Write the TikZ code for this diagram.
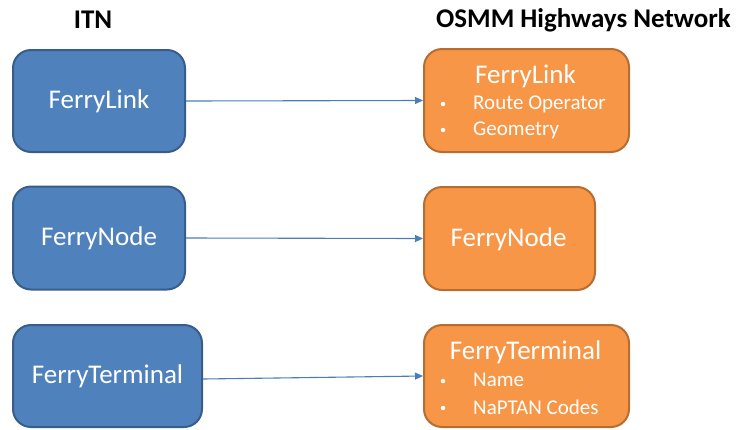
\documentclass[tikz,border=0pt]{standalone}
\usepackage{fontspec}
\setmainfont{Carlito}
\usetikzlibrary{arrows.meta}
\definecolor{bluefill}{HTML}{4F81BD}
\definecolor{blueline}{HTML}{385D8A}
\definecolor{orfill}{HTML}{F79646}
\definecolor{orline}{HTML}{B66D31}
\definecolor{arrowc}{HTML}{4A7EBB}
\begin{document}
\begin{tikzpicture}[x=1pt,y=-1pt,
  itnbox/.style={draw=blueline, fill=bluefill, line width=2pt, rounded corners=18pt,
    text=white, font=\fontsize{27}{30}\selectfont, inner sep=0pt},
  osmmbox/.style={draw=orline, fill=orfill, line width=2pt, rounded corners=18pt, inner sep=0pt},
  otitle/.style={text=white, font=\fontsize{27}{30}\selectfont, inner sep=0pt},
  oitem/.style={text=white, font=\fontsize{21}{24}\selectfont, inner sep=0pt, anchor=west},
  obullet/.style={fill=white, circle, inner sep=0pt, minimum size=4.5pt},
  header/.style={font=\bfseries\fontsize{27}{30}\selectfont, inner sep=0pt},
  conn/.style={draw=arrowc, line width=1.1pt, -{Triangle[length=8pt,width=7pt]}}
]
\useasboundingbox (0,0) rectangle (736,429);

\node[header] (hitn) at (93,20) {ITN};
\node[header] (hosmm) at (583.5,20) {OSMM Highways Network};

\node[itnbox, minimum width=172pt, minimum height=102pt] (bl) at (99,101) {FerryLink};
\node[itnbox, minimum width=172pt, minimum height=103pt] (bn) at (99,238) {FerryNode};
\node[itnbox, minimum width=189pt, minimum height=102pt] (bt) at (107.5,376) {FerryTerminal};

\node[osmmbox, minimum width=205pt, minimum height=103pt] (ol) at (526.5,100.5) {};
\node[osmmbox, minimum width=171pt, minimum height=103pt] (on) at (509.5,238.5) {};
\node[osmmbox, minimum width=205pt, minimum height=102pt] (ot) at (526.5,376) {};

\node[otitle] (olt) at (525.5,76) {FerryLink};
\node[obullet] (olb1) at (443,104) {};
\node[oitem] (oli1) at (473,104) {Route Operator};
\node[obullet] (olb2) at (443,130) {};
\node[oitem] (oli2) at (473,130) {Geometry};

\node[otitle] (ont) at (508.5,239) {FerryNode};

\node[otitle] (ott) at (525.5,352) {FerryTerminal};
\node[obullet] (otb1) at (443,381) {};
\node[oitem] (oti1) at (473,380) {Name};
\node[obullet] (otb2) at (443,408) {};
\node[oitem] (oti2) at (473,407) {NaPTAN Codes};

\draw[conn] (bl.east) -- (ol.west);
\draw[conn] (bn.east) -- (on.west);
\draw[conn] ([yshift=-3pt]bt.east) -- (ot.west);
\end{tikzpicture}
\end{document}
